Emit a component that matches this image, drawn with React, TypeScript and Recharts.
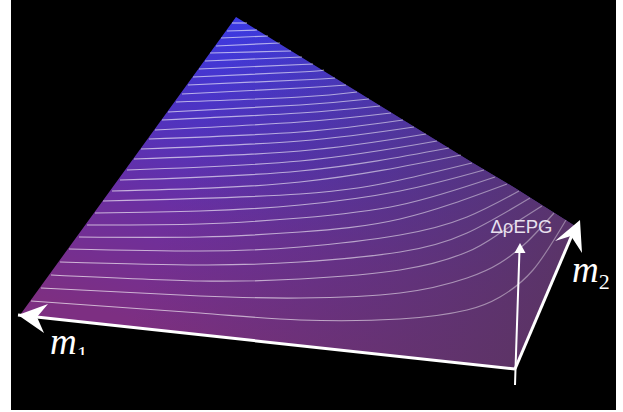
import { Area, ComposedChart, Line, ReferenceDot, XAxis, YAxis } from 'recharts';

// surface outline: x with [upper, lower] edge
const surfaceX = [20, 236, 473, 515, 575];
const surfaceUpper = [315, 17, 163, 188, 226];
const surfaceLower = [315, 338, 364, 369, 228];

// axis lines
const m1Axis = [[18, 315], [515, 369]];
const m2Axis = [[515, 369], [575, 228]];
const epgAxis = [[515, 385], [515.5, 369], [519.5, 250]];

// iso lines, top of the surface to the bottom
const contours = [
  [[232, 23], [247, 23]],
  [[227, 31], [257, 30]],
  [[221, 38], [268, 36]],
  [[216, 46], [280, 43]],
  [[210, 53], [291, 51]],
  [[205, 61], [302, 57]],
  [[199, 69], [313, 64]],
  [[193, 77], [300, 72], [324, 70]],
  [[188, 85], [300, 80], [335, 78]],
  [[182, 94], [300, 88], [346, 85]],
  [[176, 102], [300, 97], [357, 92]],
  [[168, 112], [300, 105], [369, 99]],
  [[162, 120], [300, 113], [380, 106]],
  [[155, 130], [300, 122], [391, 113]],
  [[149, 139], [300, 132], [403, 120]],
  [[141, 149], [300, 141], [414, 127]],
  [[134, 159], [300, 151], [426, 134]],
  [[127, 170], [300, 161], [437, 141]],
  [[120, 180], [300, 171], [449, 148]],
  [[112, 191], [300, 182], [461, 155]],
  [[103, 201], [300, 194], [400, 180], [472, 163]],
  [[95, 213], [200, 211], [300, 205], [400, 191], [484, 170]],
  [[87, 225], [200, 224], [300, 218], [400, 205], [495, 177]],
  [[79, 237], [200, 237], [300, 232], [400, 219], [507, 184]],
  [[69, 249], [200, 251], [300, 247], [400, 235], [467, 217], [519, 191]],
  [[60, 262], [200, 265], [300, 262], [400, 252], [467, 233], [530, 198]],
  [[51, 275], [200, 281], [300, 279], [400, 270], [467, 252], [500, 233], [542, 206]],
  [[41, 288], [200, 296], [300, 298], [400, 293], [467, 278], [500, 263], [527, 242], [554, 213]],
  [[31, 301], [200, 313], [300, 320], [400, 319], [467, 310], [500, 297], [533, 270], [566, 220]],
];

const surfaceData = surfaceX.map((x, i) => ({ x, band: [surfaceLower[i], surfaceUpper[i]] }));
const toRows = (pts: number[][]) => pts.map(([x, y]) => ({ x, y }));

function Arrow({ cx, cy, points }: any) {
  const pts = points.map(([dx, dy]: number[]) => `${cx + dx},${cy + dy}`).join(' ');
  return <polygon points={pts} fill="#fff" />;
}

function MathLabel({ cx, cy, sub, id, clipBottom, subSize, subDy }: any) {
  return (
    <g>
      <clipPath id={id}>
        <rect x={cx - 5} y={cy - 40} width={60} height={40 + clipBottom} />
      </clipPath>
      <text
        x={cx}
        y={cy}
        clipPath={`url(#${id})`}
        fill="#fff"
        fontFamily="'Liberation Serif', serif"
        fontStyle="italic"
        fontSize={37}
      >
        m
        <tspan fontStyle="normal" fontSize={subSize} dy={subDy}>{sub}</tspan>
      </text>
    </g>
  );
}

export default function App() {
  return (
    <div style={{ position: 'absolute', left: 0, top: 0, width: 623, height: 412, background: '#fff' }}>
      <div style={{ position: 'absolute', left: 11, top: 0, width: 605, height: 410, background: '#000' }} />
      <div style={{ position: 'absolute', left: 0, top: 0 }}>
        <ComposedChart width={623} height={412} margin={{ top: 0, right: 0, bottom: 0, left: 0 }}>
          <defs>
            <linearGradient id="surfaceFill" gradientUnits="userSpaceOnUse" x1="250" y1="17" x2="170" y2="330">
              <stop offset="0" stopColor="#3a3ae4" />
              <stop offset="0.35" stopColor="#4f33c0" />
              <stop offset="0.65" stopColor="#6c2fa0" />
              <stop offset="1" stopColor="#7d2f82" />
            </linearGradient>
            <linearGradient id="surfaceShade" gradientUnits="userSpaceOnUse" x1="170" y1="210" x2="530" y2="340">
              <stop offset="0" stopColor="#5a3462" stopOpacity="0" />
              <stop offset="1" stopColor="#5a3462" stopOpacity="0.92" />
            </linearGradient>
            <linearGradient id="contourStroke" gradientUnits="userSpaceOnUse" x1="30" y1="0" x2="570" y2="0">
              <stop offset="0" stopColor="#fff" stopOpacity="0.66" />
              <stop offset="0.6" stopColor="#fff" stopOpacity="0.56" />
              <stop offset="1" stopColor="#fff" stopOpacity="0.36" />
            </linearGradient>
          </defs>
          <XAxis dataKey="x" type="number" domain={[0, 623]} hide allowDataOverflow />
          <YAxis type="number" domain={[0, 412]} reversed hide allowDataOverflow />
          <Area data={surfaceData} dataKey="band" type="linear" fill="url(#surfaceFill)" fillOpacity={1} stroke="none" dot={false} activeDot={false} isAnimationActive={false} />
          <Area data={surfaceData} dataKey="band" type="linear" fill="url(#surfaceShade)" fillOpacity={1} stroke="none" dot={false} activeDot={false} isAnimationActive={false} />
          {contours.map((pts, i) => (
            <Line key={i} data={toRows(pts)} dataKey="y" type="natural" stroke="url(#contourStroke)" strokeWidth={1.2} dot={false} activeDot={false} isAnimationActive={false} />
          ))}
          <Line data={toRows(m1Axis)} dataKey="y" type="linear" stroke="#fff" strokeWidth={3} dot={false} activeDot={false} isAnimationActive={false} />
          <Line data={toRows(m2Axis)} dataKey="y" type="linear" stroke="#fff" strokeWidth={3} dot={false} activeDot={false} isAnimationActive={false} />
          <Line data={toRows(epgAxis)} dataKey="y" type="linear" stroke="#fff" strokeWidth={2} dot={false} activeDot={false} isAnimationActive={false} />
          <ReferenceDot x={18} y={315} r={0} shape={(p: any) => <Arrow {...p} points={[[0, 0], [30, -11], [19, 2], [26, 18]]} />} />
          <ReferenceDot x={580} y={220} r={0} shape={(p: any) => <Arrow {...p} points={[[0, 0], [-25, 21], [-9, 16], [2, 33]]} />} />
          <ReferenceDot x={520} y={243} r={0} shape={(p: any) => <Arrow {...p} points={[[0, 0], [-5.5, 10], [5.5, 10]]} />} />
          <ReferenceDot x={50} y={354} r={0} shape={(p: any) => <MathLabel {...p} id="clipM1" sub="1" subSize={22} subDy={7} clipBottom={1} />} />
          <ReferenceDot x={572} y={282} r={0} shape={(p: any) => <MathLabel {...p} id="clipM2" sub="2" subSize={22} subDy={7} clipBottom={20} />} />
          <ReferenceDot
            x={521.5}
            y={233}
            r={0}
            shape={({ cx, cy }: any) => (
              <text x={cx} y={cy} textAnchor="middle" fill="#e8e0ee" fontFamily="'Liberation Sans', sans-serif" fontSize={18.5}>
                ΔρEPG
              </text>
            )}
          />
        </ComposedChart>
      </div>
    </div>
  );
}
